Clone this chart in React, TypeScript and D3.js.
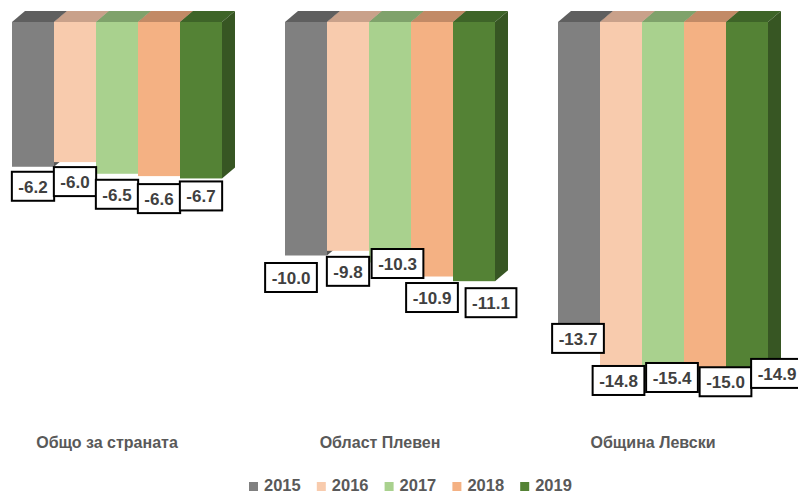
import React, { useEffect, useRef } from "react";
import * as d3 from "d3";

const categories = ["Общо за страната", "Област Плевен", "Община Левски"];
const years = ["2015", "2016", "2017", "2018", "2019"];
const values: number[][] = [
  [-6.2, -6.0, -6.5, -6.6, -6.7],
  [-10.0, -9.8, -10.3, -10.9, -11.1],
  [-13.7, -14.8, -15.4, -15.0, -14.9],
];
const frontColors = ["#808080", "#f8cbad", "#a9d18e", "#f4b183", "#548235"];
const topColors = ["#5f5f5f", "#c9a18a", "#7fa26b", "#c28a66", "#3e6428"];
const sideColors = ["#555555", "#b08c77", "#6f8f5c", "#a9785a", "#375623"];
// manual label nudges (Excel-adjusted label placement)
const labelNudge: [number, number][][] = [
  [[0, -1], [0, -1], [0, 0], [0, 2], [0, -3]],
  [[-15, 1.5], [0, 0], [7.5, -19.5], [0, 0.5], [17, 1]],
  [[-1, -24], [-2.5, -7.6], [9, -24.6], [20.5, -11], [30, -17]],
];

const W = 798;
const H = 493;
const DX = 13;
const DY = -11;

export default function App() {
  const ref = useRef<SVGSVGElement>(null);
  useEffect(() => {
    const svg = d3.select(ref.current);
    svg.selectAll("*").remove();
    const x0 = d3.scaleBand<string>().domain(categories).range([12, 768]).paddingInner(63 / 273).paddingOuter(0);
    const x1 = d3.scaleBand<string>().domain(years).range([0, x0.bandwidth()]).padding(0);
    const y = d3.scaleLinear().domain([0, -16]).range([22, 22 + 16 * 23.35]);

    const bars = svg.append("g");
    categories.forEach((c, ci) => {
      years.forEach((yr, yi) => {
        const xl = x0(c)! + x1(yr)!;
        const xr = xl + x1.bandwidth();
        const yt = y(0);
        const yb = y(values[ci][yi]);
        const g = bars.append("g");
        g.append("path")
          .attr("d", `M${xl},${yt}L${xr},${yt}L${xr + DX},${yt + DY}L${xl + DX},${yt + DY}Z`)
          .attr("fill", topColors[yi]);
        g.append("path")
          .attr("d", `M${xr},${yt}L${xr + DX},${yt + DY}L${xr + DX},${yb + DY}L${xr},${yb}Z`)
          .attr("fill", sideColors[yi]);
        g.append("rect")
          .attr("x", xl)
          .attr("y", yt)
          .attr("width", xr - xl)
          .attr("height", yb - yt)
          .attr("fill", frontColors[yi]);
      });
    });

    const labels = svg.append("g");
    categories.forEach((c, ci) => {
      years.forEach((yr, yi) => {
        const v = values[ci][yi];
        const cx = x0(c)! + x1(yr)! + x1.bandwidth() / 2 + labelNudge[ci][yi][0];
        const top = y(v) + 6 + labelNudge[ci][yi][1];
        const g = labels.append("g");
        const rect = g.append("rect");
        const t = g
          .append("text")
          .attr("x", cx)
          .attr("y", top + 21)
          .attr("text-anchor", "middle")
          .attr("font-family", "'Liberation Sans', Arial, sans-serif")
          .attr("font-weight", "bold")
          .attr("font-size", 17)
          .attr("fill", "#404040")
          .text(d3.format(".1f")(v).replace("−", "-"));
        const tw = (t.node() as SVGTextElement).getComputedTextLength();
        const bw = tw + 13;
        rect
          .attr("x", cx - bw / 2)
          .attr("y", top)
          .attr("width", bw)
          .attr("height", 29)
          .attr("fill", "#ffffff")
          .attr("stroke", "#000000")
          .attr("stroke-width", 2);
      });
    });

    // category labels
    svg
      .append("g")
      .selectAll("text")
      .data(categories)
      .join("text")
      .attr("x", (d) => x0(d)! + x0.bandwidth() / 2 - 10)
      .attr("y", 448)
      .attr("text-anchor", "middle")
      .attr("font-family", "'Liberation Sans', Arial, sans-serif")
      .attr("font-weight", "bold")
      .attr("font-size", 16)
      .attr("fill", "#595959")
      .text((d) => d);

    // legend
    const leg = svg.append("g");
    years.forEach((yr, i) => {
      const lx = 249 + i * 67.8;
      leg.append("rect").attr("x", lx).attr("y", 482).attr("width", 9).attr("height", 9).attr("fill", frontColors[i]);
      leg
        .append("text")
        .attr("x", lx + 15)
        .attr("y", 491)
        .attr("font-family", "'Liberation Sans', Arial, sans-serif")
        .attr("font-weight", "bold")
        .attr("font-size", 16.5)
        .attr("fill", "#595959")
        .text(yr);
    });
  }, []);
  return (
    <svg
      ref={ref}
      width={W}
      height={H}
      style={{ position: "absolute", left: 0, top: 0, background: "#ffffff" }}
    />
  );
}
